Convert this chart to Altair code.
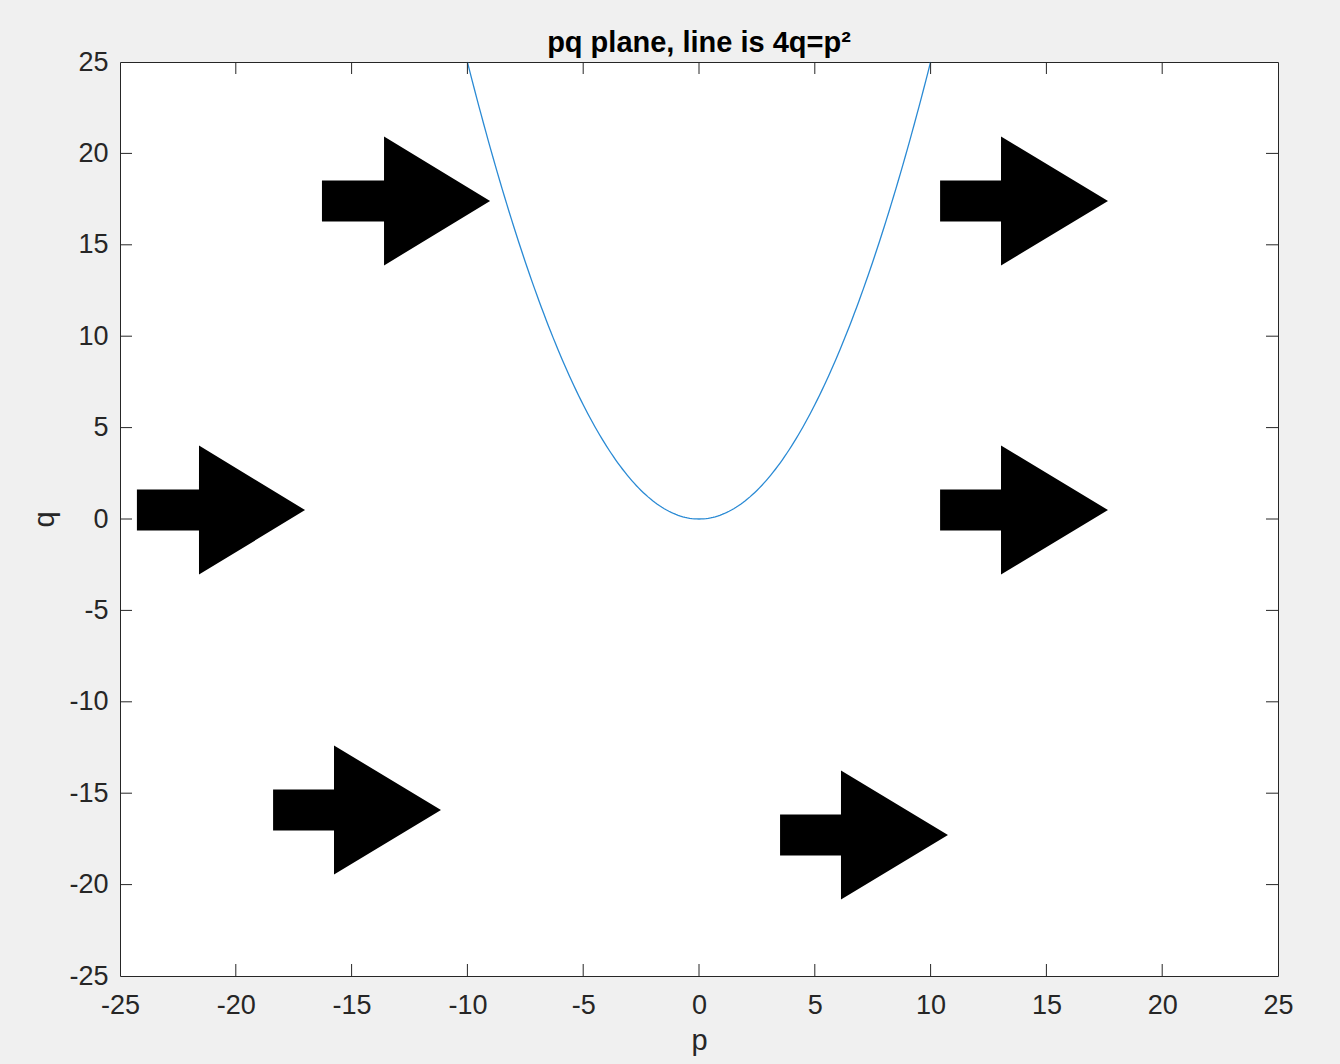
import altair as alt
import numpy as np
import pandas as pd

# Axis ticks shared by both axes
tick_values = [-25, -20, -15, -10, -5, 0, 5, 10, 15, 20, 25]
inner_ticks = [-20, -15, -10, -5, 0, 5, 10, 15, 20]

# Curve 4q = p^2 sampled over p in [-10, 10]
p_samples = np.linspace(-10, 10, 201)

# Arrow glyphs (data units): tail start, head base, tip, centre height
arrow_ids = ["a1", "a2", "a3", "a4", "a5", "a6"]
arrow_tail_p = [-16.28, 10.41, -24.27, 10.41, -18.39, 3.50]
arrow_base_p = [-13.60, 13.04, -21.59, 13.04, -15.76, 6.13]
arrow_tip_p = [-9.02, 17.66, -17.01, 17.66, -11.14, 10.75]
arrow_center_q = [17.40, 17.40, 0.49, 0.49, -15.92, -17.29]
shaft_half = 1.12
head_half = 3.53

W, H = 1158, 914
FONT = "Liberation Sans"
INK = "#262626"

curve = pd.DataFrame({"p": p_samples, "q": p_samples ** 2 / 4.0})

rows = []
for aid, t, b, tip, c in zip(arrow_ids, arrow_tail_p, arrow_base_p, arrow_tip_p, arrow_center_q):
    rows += [
        {"arrow": aid, "p": t, "lo": c - shaft_half, "hi": c + shaft_half},
        {"arrow": aid, "p": b, "lo": c - shaft_half, "hi": c + shaft_half},
        {"arrow": aid, "p": b + 1e-3, "lo": c - head_half, "hi": c + head_half},
        {"arrow": aid, "p": tip, "lo": c, "hi": c},
    ]
arrows = pd.DataFrame(rows)
ticks = pd.DataFrame({"v": inner_ticks})

xscale = alt.Scale(domain=[-25, 25], nice=False, zero=False)
yscale = alt.Scale(domain=[-25, 25], nice=False, zero=False)

# plain ASCII hyphen for negative tick labels
label_expr = "toString(datum.value)"

xaxis = alt.Axis(values=tick_values, labelExpr=label_expr, ticks=False, domain=False, grid=False,
                 labelFont=FONT, labelFontSize=27, labelColor=INK, labelPadding=16,
                 title="p", titleFont=FONT, titleFontSize=29, titleFontWeight="normal",
                 titleColor=INK, titlePadding=8, labelFlush=False)
yaxis = alt.Axis(values=tick_values, labelExpr=label_expr, ticks=False, domain=False, grid=False,
                 labelFont=FONT, labelFontSize=27, labelColor=INK, labelPadding=12,
                 title="q", titleFont=FONT, titleFontSize=29, titleFontWeight="normal",
                 titleColor=INK, titlePadding=9, labelFlush=False)

arrow_layer = alt.Chart(arrows).mark_area(color="black", orient="vertical").encode(
    x=alt.X("p:Q", scale=xscale, axis=xaxis),
    y=alt.Y("lo:Q", scale=yscale, axis=yaxis),
    y2="hi:Q",
    detail="arrow:N",
)

curve_layer = alt.Chart(curve).mark_line(color="#2a8ad4", strokeWidth=1.3).encode(
    x=alt.X("p:Q", scale=xscale),
    y=alt.Y("q:Q", scale=yscale),
)

tick_style = dict(color=INK, strokeWidth=1)
bottom_ticks = alt.Chart(ticks).mark_rule(**tick_style).encode(
    x=alt.X("v:Q", scale=xscale), y=alt.value(H), y2=alt.value(H - 12))
top_ticks = alt.Chart(ticks).mark_rule(**tick_style).encode(
    x=alt.X("v:Q", scale=xscale), y=alt.value(0), y2=alt.value(12))
left_ticks = alt.Chart(ticks).mark_rule(**tick_style).encode(
    y=alt.Y("v:Q", scale=yscale), x=alt.value(0), x2=alt.value(12))
right_ticks = alt.Chart(ticks).mark_rule(**tick_style).encode(
    y=alt.Y("v:Q", scale=yscale), x=alt.value(W), x2=alt.value(W - 12))

chart = alt.layer(
    arrow_layer, curve_layer, bottom_ticks, top_ticks, left_ticks, right_ticks
).properties(
    width=W,
    height=H,
    title=alt.TitleParams("pq plane, line is 4q=p²", font=FONT, fontSize=29,
                          fontWeight="bold", color="black", offset=-10, anchor="middle",
                          frame="group"),
    background="#f0f0f0",
    autosize=alt.AutoSizeParams(type="none"),
    padding={"left": 120, "top": 62, "right": 62, "bottom": 88},
).configure_view(
    fill="white", stroke=INK, strokeWidth=1
)

chart.save("out.html", embed_options={"renderer": "svg", "actions": False})
